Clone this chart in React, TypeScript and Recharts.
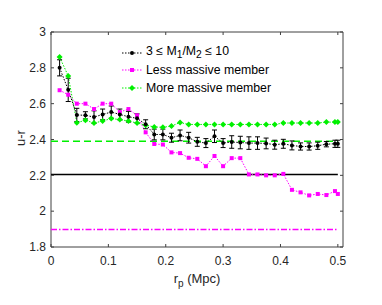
import { ComposedChart, Line, XAxis, YAxis, ErrorBar, ReferenceLine, ReferenceArea, Legend } from 'recharts'

// projected separation bins (Mpc)
const rp = [
  0.015, 0.03, 0.045, 0.06, 0.075, 0.09, 0.105, 0.12, 0.135, 0.15, 0.165, 0.18,
  0.195, 0.21, 0.225, 0.24, 0.255, 0.27, 0.285, 0.3, 0.315, 0.33, 0.345, 0.36,
  0.375, 0.39, 0.405, 0.42, 0.435, 0.45, 0.465, 0.48, 0.495, 0.5,
]

// 3 <= M1/M2 <= 10 pairs (mean u-r and error)
const pairColor = [
  2.8, 2.677, 2.537, 2.535, 2.525, 2.54, 2.553, 2.54, 2.527, 2.518, 2.485, 2.428,
  2.428, 2.41, 2.423, 2.41, 2.387, 2.38, 2.418, 2.38, 2.386, 2.383, 2.38, 2.38,
  2.378, 2.371, 2.376, 2.367, 2.361, 2.361, 2.365, 2.374, 2.376, 2.376,
]
const pairErr = [
  0.045, 0.065, 0.037, 0.02, 0.035, 0.03, 0.034, 0.03, 0.03, 0.025, 0.025, 0.03,
  0.03, 0.025, 0.03, 0.03, 0.025, 0.025, 0.035, 0.025, 0.035, 0.035, 0.035, 0.035,
  0.03, 0.025, 0.025, 0.025, 0.02, 0.02, 0.02, 0.015, 0.02, 0.02,
]

const lessMassive = [
  2.675, 2.65, 2.6, 2.6, 2.57, 2.6, 2.6, 2.553, 2.57, 2.535, 2.44, 2.375,
  2.372, 2.328, 2.324, 2.298, 2.292, 2.251, 2.308, 2.251, 2.296, 2.296, 2.205, 2.205,
  2.2, 2.2, 2.208, 2.119, 2.105, 2.088, 2.096, 2.09, 2.112, 2.096,
]

const moreMassive = [
  2.86, 2.755, 2.494, 2.507, 2.492, 2.503, 2.517, 2.511, 2.503, 2.492, 2.48, 2.47,
  2.468, 2.475, 2.495, 2.484, 2.484, 2.484, 2.484, 2.484, 2.484, 2.484, 2.484, 2.484,
  2.484, 2.484, 2.492, 2.492, 2.492, 2.492, 2.492, 2.497, 2.497, 2.497,
]

// field reference levels
const pairRef = 2.205
const moreRef = 2.39
const lessRef = 1.898

const xTicks = [0, 0.1, 0.2, 0.3, 0.4, 0.5]
const yTicks = [1.8, 2, 2.2, 2.4, 2.6, 2.8, 3]

const data = rp.map((r, i) => ({
  rp: r,
  pair: pairColor[i],
  err: pairErr[i],
  less: lessMassive[i],
  more: moreMassive[i],
}))

const W = 382
const H = 305
const LEFT = 51
const TOP = 32
const RIGHT = 343
const BOTTOM = 247
const AXIS = '#404040'
const MAGENTA = '#ff00ff'
const GREEN = '#00f000'
const FONT = '"Liberation Sans", Arial, sans-serif'

const XTick = ({ x, y, payload }: any) => (
  <g>
    <line x1={x} y1={BOTTOM} x2={x} y2={BOTTOM - 3} stroke={AXIS} />
    <line x1={x} y1={TOP} x2={x} y2={TOP + 3} stroke={AXIS} />
    <text x={x} y={y} dy="0.71em" textAnchor="middle" fontSize={12} fill="#262626" fontFamily={FONT}>
      {payload.value}
    </text>
  </g>
)

const YTick = ({ x, y, payload }: any) => (
  <g>
    <line x1={LEFT} y1={y} x2={LEFT + 3} y2={y} stroke={AXIS} />
    <line x1={RIGHT} y1={y} x2={RIGHT - 3} y2={y} stroke={AXIS} />
    <text x={x} y={y} dy="0.355em" textAnchor="end" fontSize={12} fill="#262626" fontFamily={FONT}>
      {payload.value}
    </text>
  </g>
)

const Square = ({ cx, cy }: any) => <rect x={cx - 2} y={cy - 2} width={4} height={4} fill={MAGENTA} />
const Diamond = ({ cx, cy }: any) => (
  <polygon points={`${cx},${cy - 3} ${cx + 3},${cy} ${cx},${cy + 3} ${cx - 3},${cy}`} fill={GREEN} />
)
const Dot = ({ cx, cy }: any) => <circle cx={cx} cy={cy} r={2} fill="#000" />

const legendRows = [
  { color: '#000', marker: 'dot', label: <>3 ≤ M<sub>1</sub>/M<sub>2</sub> ≤ 10</> },
  { color: MAGENTA, marker: 'square', label: 'Less massive member' },
  { color: GREEN, marker: 'diamond', label: 'More massive member' },
]

function LegendBox() {
  return (
    <div style={{ fontFamily: FONT, fontSize: 12.3, color: '#000' }}>
      {legendRows.map((row, i) => (
        <div key={i} style={{ display: 'flex', alignItems: 'center', height: 17.6, whiteSpace: 'nowrap' }}>
          <svg width={24} height={10} style={{ marginRight: 1 }}>
            <line x1={1} y1={5} x2={21} y2={5} stroke={row.color} strokeDasharray="1.5 1.5" />
            {row.marker === 'dot' && <circle cx={11} cy={5} r={2} fill={row.color} />}
            {row.marker === 'square' && <rect x={9} y={3} width={4} height={4} fill={row.color} />}
            {row.marker === 'diamond' && <polygon points="11,2 14,5 11,8 8,5" fill={row.color} />}
          </svg>
          <span style={{ lineHeight: '12px' }}>{row.label}</span>
        </div>
      ))}
    </div>
  )
}

export default function App() {
  return (
    <div style={{ position: 'absolute', left: 0, top: 0, width: W, height: H, background: '#fff' }}>
      <ComposedChart width={W} height={H} data={data} margin={{ top: TOP, right: W - RIGHT, bottom: 0, left: 0 }}>
        <XAxis
          dataKey="rp"
          type="number"
          domain={[0, 0.509]}
          ticks={xTicks}
          allowDataOverflow
          height={H - BOTTOM}
          axisLine={false}
          tickLine={false}
          tickSize={0}
          tickMargin={9}
          tick={<XTick />}
        />
        <YAxis
          type="number"
          domain={[1.8, 3]}
          ticks={yTicks}
          allowDataOverflow
          width={LEFT}
          axisLine={false}
          tickLine={false}
          tickSize={0}
          tickMargin={5}
          tick={<YTick />}
        />
        <ReferenceArea x1={0} x2={0.509} y1={1.8} y2={3} fill="none" stroke={AXIS} strokeWidth={1} />
        <ReferenceLine segment={[{ x: 0, y: moreRef }, { x: 0.5, y: moreRef }]} stroke={GREEN} strokeWidth={1.5} strokeDasharray="7 4" />
        <ReferenceLine segment={[{ x: 0, y: pairRef }, { x: 0.5, y: pairRef }]} stroke="#000" strokeWidth={1.5} />
        <ReferenceLine segment={[{ x: 0, y: lessRef }, { x: 0.5, y: lessRef }]} stroke={MAGENTA} strokeWidth={1.5} strokeDasharray="6 2 1.5 2" />
        <Line dataKey="less" stroke={MAGENTA} strokeWidth={1} strokeDasharray="1.5 1.5" dot={<Square />} isAnimationActive={false} />
        <Line dataKey="more" stroke={GREEN} strokeWidth={1} strokeDasharray="1.5 1.5" dot={<Diamond />} isAnimationActive={false} />
        <Line dataKey="pair" stroke="#000" strokeWidth={1} strokeDasharray="1.5 1.5" dot={<Dot />} isAnimationActive={false}>
          <ErrorBar dataKey="err" width={2.5} stroke="#000" strokeWidth={1} direction="y" />
        </Line>
        <Legend
          layout="vertical"
          align="center"
          verticalAlign="middle"
          content={<LegendBox />}
          wrapperStyle={{ left: 121, top: 44, width: 'auto' }}
        />
      </ComposedChart>
      <div
        style={{
          position: 'absolute',
          left: 20,
          top: 138,
          transform: 'translate(-50%, -50%) rotate(-90deg)',
          fontFamily: FONT,
          fontSize: 13,
          color: '#262626',
          whiteSpace: 'nowrap',
        }}
      >
        u-r
      </div>
      <div
        style={{
          position: 'absolute',
          left: 197,
          top: 280,
          transform: 'translate(-50%, -50%)',
          fontFamily: FONT,
          fontSize: 13,
          color: '#262626',
          whiteSpace: 'nowrap',
        }}
      >
        r<sub style={{ fontSize: 10 }}>p</sub> (Mpc)
      </div>
    </div>
  )
}
